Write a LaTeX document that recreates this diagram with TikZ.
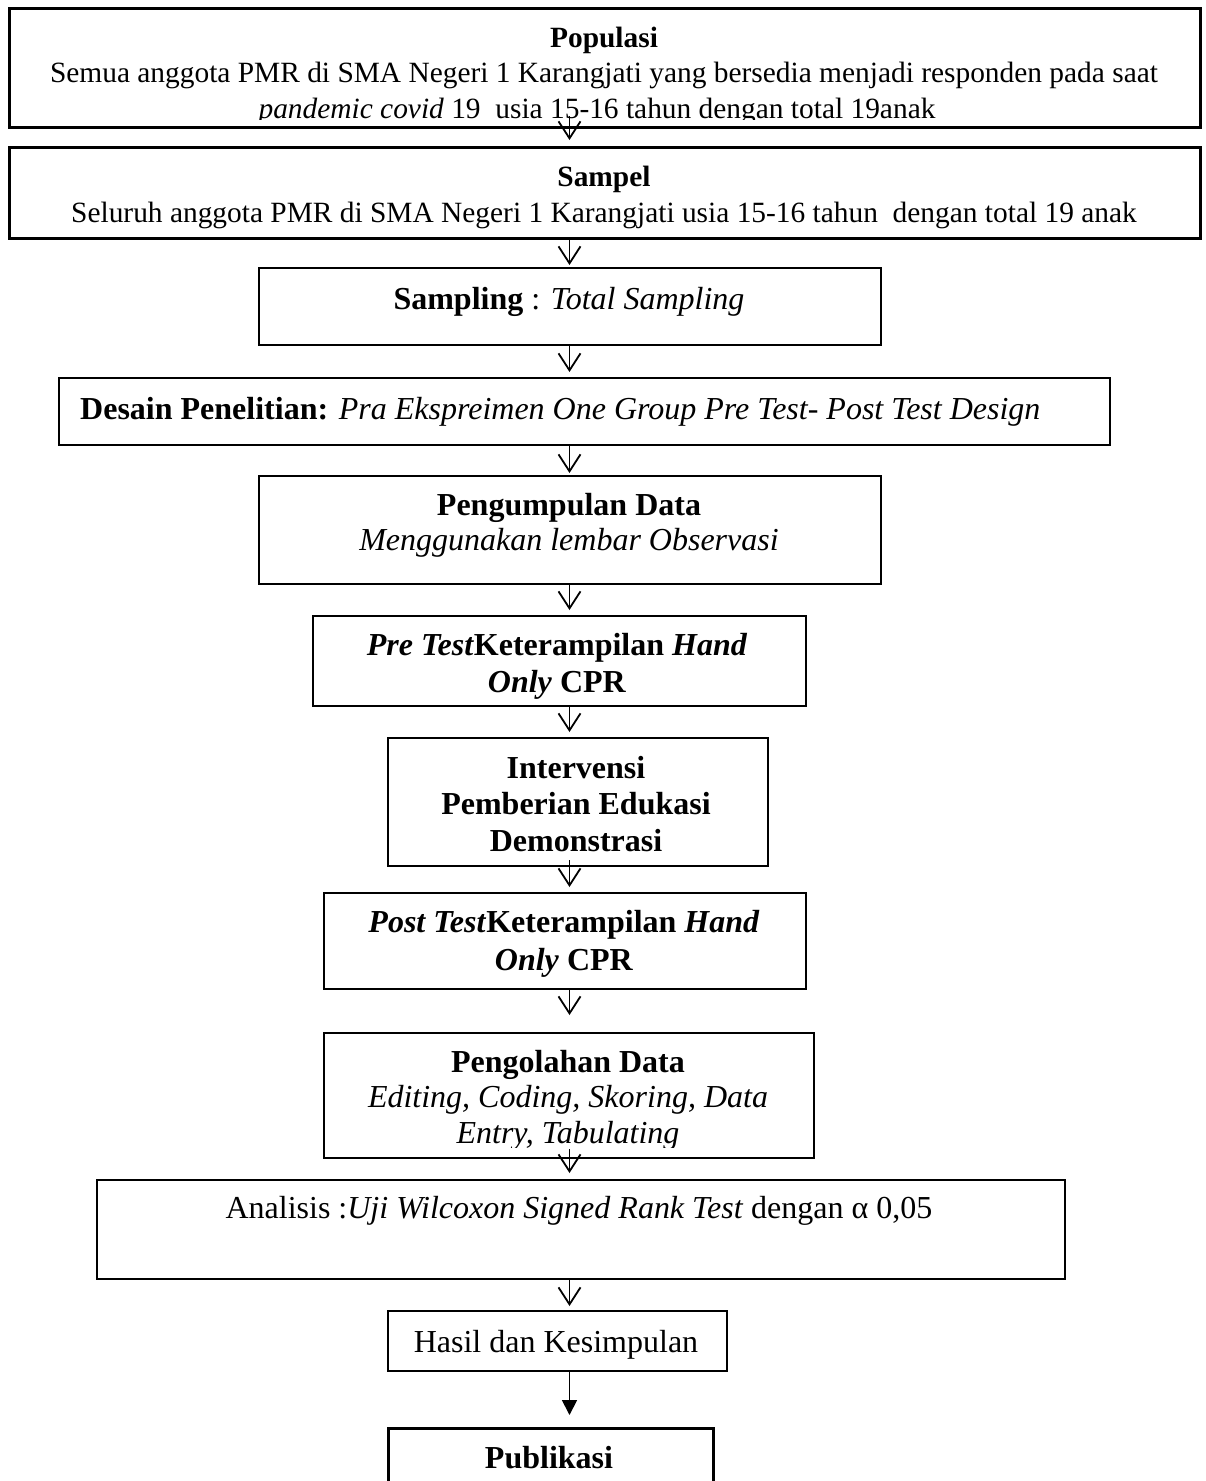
\documentclass[tikz,border=0pt]{standalone}
\usepackage{fontspec}
\setmainfont{Liberation Serif}
\usetikzlibrary{arrows.meta,calc}
\begin{document}
\begin{tikzpicture}[x=1pt,y=-1pt,
  box/.style={draw, line width=2pt, inner sep=0pt, anchor=north west},
  thickbox/.style={box, line width=2.8pt},
  txt/.style={inner sep=0pt, anchor=base, font=\fontsize{32}{37}\selectfont},
  txttop/.style={inner sep=0pt, anchor=base, font=\fontsize{29.4}{35}\selectfont},
  arr/.style={line width=1.8pt, -{Straight Barb[length=17pt,width=22pt]}},
  arrf/.style={line width=1.8pt, -{Triangle[length=15pt,width=15pt]}}]
\clip (0,0) rectangle (1206,1481);
\fill[white] (0,0) rectangle (1206,1481);
\coordinate (ax) at (569.5,0);
% boxes
\node[thickbox, minimum width=1191pt, minimum height=119pt] (pop) at (8,7) {};
\node[thickbox, minimum width=1191pt, minimum height=91pt] (samp) at (8,146) {};
\node[box, minimum width=622pt, minimum height=77pt] (sampling) at (258,267) {};
\node[box, minimum width=1051pt, minimum height=67pt] (desain) at (58,377) {};
\node[box, minimum width=622pt, minimum height=108pt] (kumpul) at (258,475) {};
\node[box, minimum width=493pt, minimum height=90pt] (pre) at (312,615) {};
\node[box, minimum width=380pt, minimum height=128pt] (interv) at (387,737) {};
\node[box, minimum width=482pt, minimum height=96pt] (post) at (323,892) {};
\node[box, minimum width=490pt, minimum height=125pt] (olah) at (323,1032) {};
\node[box, minimum width=968pt, minimum height=99pt] (analisis) at (96,1179) {};
\node[box, minimum width=339pt, minimum height=60pt] (hasil) at (387,1310) {};
\node[thickbox, minimum width=325pt, minimum height=100pt] (publik) at (387,1427) {};
% texts
\node[txttop] (popt1) at (604,47) {\textbf{Populasi}};
\node[txttop] (popt2) at (604,82) {Semua anggota PMR di SMA Negeri 1 Karangjati yang bersedia menjadi responden pada saat};
\begin{scope}
\clip (0,0) rectangle (1206,119);
\node[txttop] (popt3) at (597,118) {\textit{pandemic covid} 19\ \ usia 15-16 tahun dengan total 19anak};
\end{scope}
\node[txttop] (sampt1) at (604,186) {\textbf{Sampel}};
\node[txttop] (sampt2) at (604,222) {Seluruh anggota PMR di SMA Negeri 1 Karangjati usia 15-16 tahun\ \ dengan total 19 anak};
\node[txt] (samplingt) at (569,309) {\textbf{Sampling} : \textit{Total Sampling}};
\node[txt, anchor=base west] (desaint) at (80,419) {\textbf{Desain Penelitian:} \textit{Pra Ekspreimen One Group Pre Test- Post Test Design}};
\node[txt] (kumpult1) at (569,515) {\textbf{Pengumpulan Data}};
\node[txt] (kumpult2) at (569,550) {\textit{Menggunakan lembar Observasi}};
\node[txt] (pret1) at (557,655) {\textbf{\textit{Pre Test}Keterampilan \textit{Hand}}};
\node[txt] (pret2) at (557,692) {\textbf{\textit{Only} CPR}};
\node[txt] (intervt1) at (576,778) {\textbf{Intervensi}};
\node[txt] (intervt2) at (576,814) {\textbf{Pemberian Edukasi}};
\node[txt] (intervt3) at (576,851) {\textbf{Demonstrasi}};
\node[txt] (postt1) at (564,932) {\textbf{\textit{Post Test}Keterampilan \textit{Hand}}};
\node[txt] (postt2) at (564,970) {\textbf{\textit{Only} CPR}};
\node[txt] (olaht1) at (568,1072) {\textbf{Pengolahan Data}};
\node[txt] (olaht2) at (568,1107) {\textit{Editing, Coding, Skoring, Data}};
\begin{scope}
\clip (0,1000) rectangle (1206,1147);
\node[txt] (olaht3) at (568,1143) {\textit{Entry, Tabulating}};
\end{scope}
\node[txt] (analisist) at (579,1218) {Analisis :\textit{Uji Wilcoxon Signed Rank Test} dengan α 0,05};
\node[txt] (hasilt) at (556,1352) {Hasil dan Kesimpulan};
\node[txt] (publikt) at (549,1468) {\textbf{Publikasi}};
% arrows
\draw[arr] ($(pop.south -| ax)+(0,-13)$) -- ($(samp.north -| ax)+(0,-6)$);
\draw[arr] (samp.south -| ax) -- ($(sampling.north -| ax)+(0,-2)$);
\draw[arr] (sampling.south -| ax) -- ($(desain.north -| ax)+(0,-5)$);
\draw[arr] (desain.south -| ax) -- ($(kumpul.north -| ax)+(0,-2)$);
\draw[arr] (kumpul.south -| ax) -- ($(pre.north -| ax)+(0,-5)$);
\draw[arr] (pre.south -| ax) -- ($(interv.north -| ax)+(0,-5)$);
\draw[arr] ($(interv.south -| ax)+(0,-7)$) -- ($(post.north -| ax)+(0,-5)$);
\draw[arr] (post.south -| ax) -- ($(olah.north -| ax)+(0,-17)$);
\draw[arr] ($(olah.south -| ax)+(0,-10)$) -- ($(analisis.north -| ax)+(0,-6)$);
\draw[arr] (analisis.south -| ax) -- ($(hasil.north -| ax)+(0,-4)$);
\draw[arrf] (hasil.south -| ax) -- ($(publik.north -| ax)+(0,-12)$);
\end{tikzpicture}
\end{document}
